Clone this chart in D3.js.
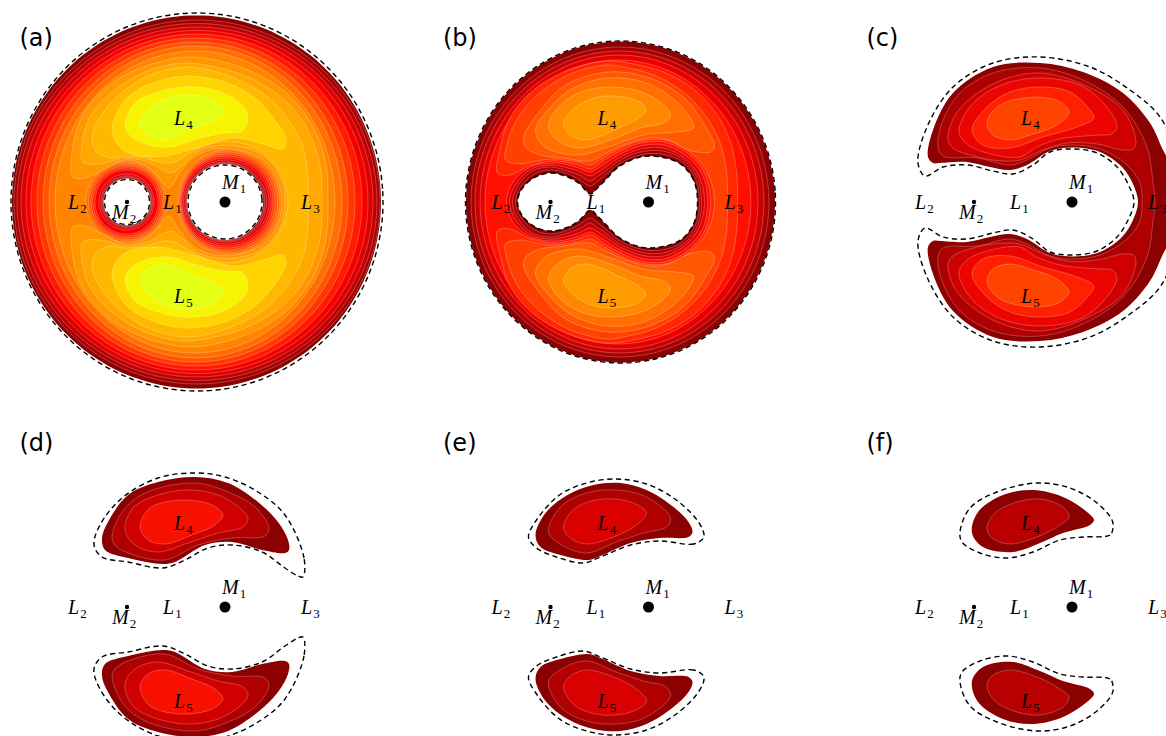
<!DOCTYPE html>
<html>
<head>
    <title>Zero velocity regions</title>
    <script src="https://d3js.org/d3.v7.min.js"></script>
    <style>
        body { margin: 0; background: #fff; }
        svg { display: block; overflow: hidden; }
        .level { stroke: #fff; stroke-opacity: 0.35; stroke-width: 0.7; fill-rule: evenodd; }
        .level.first { stroke: none; }
        .zero { fill: none; stroke: #000; stroke-width: 1.4; stroke-dasharray: 5.2,3.6; }
        .panel-label { font: 24px "DejaVu Sans", sans-serif; }
        .body-label { font: italic 20px "Liberation Serif", serif; }
        .body-label tspan { font-style: normal; font-size: 13px; }
    </style>
</head>
<body>
    <div id="chart"></div>
    <script>
        var panelNames = ["(a)", "(b)", "(c)", "(d)", "(e)", "(f)"];
        var m1X = [225, 648.5, 1072, 225, 648.5, 1072];
        var m1Y = [202, 202, 202, 607, 607, 607];

        var bodyNames = ["L", "L", "L", "L", "L", "M", "M"];
        var bodySubs = ["1", "2", "3", "4", "5", "1", "2"];
        var bodyX = [-62, -157, 76, -51, -51, -3, -113];
        var bodyY = [-6.5, -6.5, -6.5, 77.5, -100.5, 13, -16.5];
        var massX = [0, -98];
        var massSize = [5.5, 2.2];

        // panel (a): [left, right, top] of the near-elliptic contours, level 0-9
        var ringsA = [[-213, 156, 186.5], [-211, 155, 182], [-208, 152, 178.5], [-204, 148, 175], [-199, 143, 171.5],
            [-194, 137, 168], [-188, 130, 164], [-182, 123, 160], [-176, 117, 156], [-170, 110, 151]];
        var holesM1A = [[-38, 38, 38], [-38.5, 39, 38.5], [-39, 40, 39], [-40, 41.5, 40], [-41.5, 44, 42],
            [-43, 46, 44], [-44, 48, 46], [-45, 50, 48], [-46, 52.5, 50], [-47.5, 55, 52]];
        var holesM2A = [[-121.5, -74.5, 23.5], [-122, -74, 24], [-123, -73, 25], [-124, -72.5, 26], [-126, -71, 28],
            [-130, -67, 32], [-132, -65, 34], [-134, -63, 36], [-136.5, -61, 38], [-139, -59, 40]];
        // level 10-12 horseshoes, upper half from the axis round to the axis
        var shoesA = [
            [[103, 0], [102, 30], [95, 60], [80, 88], [58, 112], [28, 130], [-5, 141], [-38, 145], [-82, 135], [-118, 115], [-143, 85], [-153, 49], [-152, 25],
             [-140, 24], [-122, 32], [-100, 42], [-80, 37], [-66, 24], [-56, 14], [-46, 28], [-32, 44], [-10, 53], [15, 52], [38, 42], [52, 24], [57, 0]],
            [[97, 0], [96, 30], [89, 58], [75, 85], [52, 108], [23, 125], [-10, 135], [-42, 139], [-80, 130], [-113, 110], [-135, 85], [-143, 58], [-142, 40],
             [-125, 38], [-100, 44], [-80, 41], [-64, 33], [-54, 29], [-42, 37], [-28, 50], [-8, 56], [17, 55], [40, 45], [55, 26], [60, 0]],
            [[83, 0], [83, 25], [78, 55], [65, 80], [45, 103], [18, 120], [-12, 131], [-38, 135], [-75, 127], [-105, 108], [-125, 85], [-133, 65], [-130, 52],
             [-115, 44], [-100, 46], [-80, 44], [-62, 39], [-50, 40], [-35, 49], [-15, 58], [10, 60], [35, 51], [55, 30], [63, 0]]
        ];
        // level 13-15 islands around L4
        var islandsA = [
            [[-113, 72], [-100, 102], [-75, 118], [-38, 126], [0, 120], [30, 104], [50, 82], [61, 62], [58, 53], [35, 59], [8, 64], [-25, 55], [-68, 45], [-102, 52]],
            [[-100, 79], [-90, 99], [-70, 109], [-42, 115], [-10, 112], [15, 99], [23, 85], [18, 71], [0, 69], [-25, 64], [-50, 56], [-65, 55], [-85, 60], [-97, 69]],
            [[-85, 79], [-75, 94], [-60, 103], [-42, 107], [-20, 105], [-5, 97], [-2, 90], [-10, 82], [-30, 74], [-50, 65], [-65, 62], [-77, 67], [-84, 74]]
        ];

        // panel (b)
        var ringsB = [[-182.5, 126.5, 160.5], [-177.5, 120.5, 155], [-173.5, 115.5, 151], [-168.5, 109.5, 147], [-163.5, 102.5, 142]];
        var peanutsB = [
            [[49, 0], [45, 22], [32, 38], [12, 45], [-8, 45], [-30, 35], [-44, 21], [-52, 13], [-58, 8], [-70, 19], [-83, 26], [-98, 29], [-113, 25], [-126, 14], [-131, 0]],
            [[51, 0], [47, 23], [34, 40], [13, 48], [-8, 47], [-30, 38], [-44, 26], [-52, 20], [-58, 16], [-70, 23], [-83, 29], [-98, 32], [-114, 28], [-128, 15], [-133, 0]],
            [[53, 0], [49, 24], [35, 42], [14, 51], [-8, 50], [-30, 41], [-44, 30], [-52, 25], [-58, 21], [-70, 27], [-84, 32], [-98, 35], [-116, 31], [-130, 17], [-136, 0]],
            [[56, 0], [51, 25], [36, 44], [15, 54], [-8, 53], [-30, 44], [-44, 34], [-52, 29], [-58, 26], [-70, 31], [-84, 35], [-98, 37], [-117, 33], [-132, 19], [-139, 0]],
            [[59, 0], [54, 27], [38, 46], [15, 57], [-8, 56], [-30, 47], [-44, 38], [-52, 33], [-58, 30], [-70, 34], [-84, 38], [-98, 39], [-118, 35], [-135, 21], [-142, 0]]
        ];
        var shoesB = [
            [[89, 0], [88, 30], [82, 60], [68, 88], [45, 113], [15, 130], [-20, 139], [-42, 141], [-80, 132], [-115, 112], [-138, 85], [-148, 55], [-151, 29],
             [-138, 27], [-120, 36], [-98, 41], [-84, 40], [-70, 37], [-58, 33], [-44, 42], [-28, 51], [-8, 59], [15, 60], [39, 49], [56, 29], [62, 0]],
            [[79, 0], [78, 30], [72, 58], [58, 85], [37, 108], [8, 126], [-25, 135], [-42, 137], [-78, 128], [-110, 108], [-132, 82], [-142, 55], [-143, 42],
             [-128, 38], [-112, 41], [-98, 43], [-84, 42], [-70, 40], [-58, 37], [-44, 45], [-28, 54], [-8, 61], [16, 62], [40, 51], [58, 31], [66, 0]]
        ];
        var islandsB = [
            [[-125, 64], [-108, 92], [-83, 117], [-41, 130], [1, 124], [36, 104], [56, 77], [66, 56], [62, 50], [40, 52], [20, 62], [0, 64], [-25, 57], [-44, 48], [-58, 41], [-85, 44], [-108, 47], [-122, 54]],
            [[-113, 72], [-98, 95], [-75, 114], [-41, 124], [-5, 120], [25, 103], [43, 82], [45, 74], [28, 70], [0, 68], [-15, 64], [-40, 55], [-68, 47], [-88, 49], [-105, 56]],
            [[-100, 77], [-90, 95], [-70, 109], [-41, 115], [-10, 111], [13, 99], [22, 87], [17, 80], [-8, 74], [-35, 63], [-68, 54], [-85, 58], [-96, 67]],
            [[-85, 79], [-76, 92], [-60, 102], [-43, 106], [-20, 104], [-6, 98], [-3, 91], [-10, 84], [-30, 74], [-50, 65], [-65, 62], [-77, 66], [-83, 73]]
        ];

        // panel (c)
        var shoesC = [
            [[105, 0], [102, 30], [91, 52], [78, 79], [51, 109], [11, 130], [-32, 139], [-79, 135], [-119, 109], [-139, 72], [-144, 45], [-139, 39],
             [-132, 39], [-105, 40], [-82, 35], [-62, 32], [-45, 37], [-22, 51], [1, 54.5], [28, 50], [50, 35], [61, 18], [66, 0]],
            [[83, 0], [81, 19], [75, 55], [51, 95], [11, 122], [-32, 134], [-79, 129], [-112, 109], [-130, 79], [-134, 55],
             [-129, 46], [-95, 44], [-62, 37], [-45, 42], [-22, 54], [1, 57], [28, 53], [55, 37], [68, 19], [70, 0]]
        ];
        var islandsC = [
            [[-124, 62], [-118, 85], [-100, 105], [-70, 122], [-32, 129], [10, 118], [51, 92], [64, 59], [61, 53], [51, 52], [25, 58], [-5, 59], [-29, 52], [-52, 42], [-69, 41], [-95, 45], [-119, 54]],
            [[-113, 70], [-107, 88], [-92, 105], [-65, 119], [-29, 124], [10, 116], [34, 96], [45, 76], [40, 68], [28, 67], [-12, 63], [-35, 55], [-52, 45], [-85, 49], [-105, 58]],
            [[-100, 72], [-85, 95], [-62, 110], [-32, 115], [-2, 110], [18, 92], [22, 84], [5, 75], [-29, 65], [-62, 54], [-89, 57]],
            [[-85, 80], [-72, 97], [-35, 105], [-12, 100], [-3, 90], [-15, 77], [-42, 67], [-62, 62], [-79, 67]]
        ];

        // panel (d)
        var islandsD = [
            [[64, 57], [60, 54], [37, 57], [7, 65], [-20, 62], [-50, 45], [-62, 43], [-97, 49], [-120, 57], [-123, 69], [-117, 85], [-97, 112], [-67, 125], [-30, 130], [3, 124], [33, 105], [53, 85], [63, 67]],
            [[-113, 69], [-103, 95], [-80, 114], [-30, 124], [3, 115], [30, 100], [44, 79], [40, 71], [7, 69], [-27, 62], [-60, 47], [-97, 54], [-110, 62]],
            [[-100, 77], [-92, 99], [-67, 112], [-33, 117], [0, 109], [23, 89], [18, 80], [-7, 74], [-37, 64], [-67, 55], [-90, 62]],
            [[-85, 80], [-75, 99], [-43, 107], [-13, 102], [-2, 92], [-10, 82], [-33, 72], [-60, 63], [-77, 67]]
        ];
        // panel (e)
        var islandsE = [
            [[44, 75], [40, 70], [11, 69], [-18, 64], [-48, 51], [-60, 47], [-88, 52], [-108, 60], [-113, 72], [-103, 94], [-81, 112], [-55, 122], [-28, 124], [-2, 117], [25, 100], [40, 85]],
            [[-100, 75], [-88, 100], [-62, 114], [-32, 117], [-2, 110], [22, 89], [18, 80], [-5, 74], [-32, 65], [-62, 54], [-87, 62]],
            [[-85, 80], [-73, 99], [-45, 108], [-15, 104], [-2, 94], [-12, 82], [-35, 70], [-62, 63], [-78, 69]]
        ];
        // panel (f)
        var islandsF = [
            [[22, 87], [18, 82], [-9, 74], [-32, 64], [-59, 55], [-89, 60], [-100, 74], [-94, 95], [-69, 112], [-39, 117], [-9, 110], [15, 95]],
            [[-85, 79], [-77, 94], [-55, 105], [-32, 108], [-9, 100], [-3, 90], [-12, 82], [-35, 70], [-63, 63], [-80, 69]]
        ];

        // dashed zero velocity curves
        var zeroRingA = [-214, 158, 189];
        var zeroHolesA = [[-37, 37, 37], [-120.5, -75.5, 22.5]];
        var zeroRingB = [-183, 127, 161];
        var zeroShoeC = [[110, 0], [105, 45], [88, 85], [58, 112], [18, 135], [-32, 145], [-79, 139], [-119, 115], [-145, 75], [-154, 39], [-147, 26],
            [-129, 35], [-105, 37], [-79, 31], [-59, 28], [-39, 37], [-22, 50], [1, 53], [25, 49], [45, 35], [57, 16], [62, 0]];
        var zeroD = [[78, 30], [79, 49], [60, 92], [33, 115], [0, 130], [-30, 134], [-67, 129], [-103, 109], [-125, 82], [-131, 62], [-123, 50], [-97, 45], [-62, 39], [-40, 47], [-17, 59], [7, 62], [37, 55], [60, 39], [73, 31]];
        var zeroE = [[55, 69], [45, 63], [11, 66], [-18, 62], [-48, 50], [-65, 44], [-92, 50], [-112, 59], [-120, 70], [-112, 87], [-89, 112], [-62, 124], [-32, 128], [-2, 123], [25, 109], [47, 89], [55, 75]];
        var zeroF = [[41, 79], [38, 72], [11, 70], [-12, 67], [-39, 55], [-65, 49], [-92, 54], [-110, 65], [-112, 75], [-102, 99], [-75, 115], [-35, 124], [-2, 119], [25, 104], [40, 87]];

        var coloursA = ["#8b0000", "#a50000", "#c00000", "#dc0000", "#f50000", "#ff1a00", "#ff3800", "#ff5400", "#ff6e00", "#ff8400", "#ff9800", "#ffa800", "#ffb800", "#ffd400", "#f6f400", "#e2ff14"];
        var coloursB = ["#8b0000", "#a80000", "#c80000", "#e80000", "#ff1000", "#ff2800", "#ff4000", "#ff5800", "#ff7000", "#ff8800", "#ff9c00"];
        var coloursC = ["#8b0000", "#ae0000", "#cf0000", "#ec0500", "#ff2000", "#ff4400"];
        var coloursD = ["#8b0000", "#b00000", "#d00000", "#f81000"];
        var coloursE = ["#8b0000", "#b00000", "#d80000"];
        var coloursF = ["#8b0000", "#b80000"];

        var angles = d3.range(0, 360, 4);

        function ringToPoints(row) {
            var cx = (row[0] + row[1]) / 2, rx = (row[1] - row[0]) / 2;
            return angles.map(function(a) {
                var t = a * Math.PI / 180;
                return [cx + rx * Math.cos(t), row[2] * Math.sin(t)];
            });
        }

        function mirror(points) {
            return points.map(function(p) { return [p[0], -p[1]]; });
        }

        // upper half that starts and ends on the axis -> one closed loop
        function closeHalf(half) {
            var first = half[0], last = half[half.length - 1];
            var inner = half.slice(first[1] === 0 ? 1 : 0, last[1] === 0 ? half.length - 1 : half.length);
            return half.concat(mirror(inner).reverse());
        }

        var svg = d3.select("#chart").append("svg")
            .attr("width", 1166)
            .attr("height", 736);

        function makePanel(i) {
            var x = d3.scaleLinear().domain([0, 100]).range([m1X[i], m1X[i] + 100]);
            var y = d3.scaleLinear().domain([0, 100]).range([m1Y[i], m1Y[i] - 100]);
            var line = d3.line()
                .x(function(d) { return x(d[0]); })
                .y(function(d) { return y(d[1]); })
                .curve(d3.curveCatmullRomClosed.alpha(0.5));
            return { g: svg.append("g"), line: line, index: i };
        }

        function drawLevels(panel, levels, colours) {
            panel.g.selectAll("path.level")
                .data(levels)
                .enter().append("path")
                .attr("class", function(d, i) { return i === 0 ? "level first" : "level"; })
                .attr("d", function(loops) { return loops.map(panel.line).join(""); })
                .style("fill", function(d, i) { return colours[i]; });
        }

        function drawZero(panel, loops) {
            panel.g.append("path")
                .attr("class", "zero")
                .attr("d", loops.map(panel.line).join(""));
        }

        function drawLabels(panel) {
            var i = panel.index;
            var px = m1X[i], py = m1Y[i];
            panel.g.selectAll("circle")
                .data(massX)
                .enter().append("circle")
                .attr("cx", function(d) { return px + d; })
                .attr("cy", py)
                .attr("r", function(d, k) { return massSize[k]; })
                .attr("fill", "#000");

            var text = panel.g.selectAll("text.body-label")
                .data(bodyNames)
                .enter().append("text")
                .attr("class", "body-label")
                .attr("x", function(d, k) { return px + bodyX[k]; })
                .attr("y", function(d, k) { return py - bodyY[k]; })
                .text(function(d) { return d; });
            text.append("tspan")
                .attr("dx", 1)
                .attr("dy", 4)
                .text(function(d, k) { return bodySubs[k]; });

            panel.g.append("text")
                .attr("class", "panel-label")
                .attr("x", px - 205.5)
                .attr("y", py - 156)
                .text(panelNames[i]);
        }

        function islandLoops(points) {
            return [points, mirror(points)];
        }

        // (a)
        var levelsA = ringsA.map(function(r, k) {
            return [ringToPoints(r), ringToPoints(holesM1A[k]), ringToPoints(holesM2A[k])];
        }).concat(shoesA.map(function(s) { return [closeHalf(s)]; }))
          .concat(islandsA.map(islandLoops));

        // (b)
        var levelsB = ringsB.map(function(r, k) {
            return [ringToPoints(r), closeHalf(peanutsB[k])];
        }).concat(shoesB.map(function(s) { return [closeHalf(s)]; }))
          .concat(islandsB.map(islandLoops));

        // (c)
        var levelsC = shoesC.map(function(s) { return [closeHalf(s)]; })
            .concat(islandsC.map(islandLoops));

        var panels = d3.range(6).map(makePanel);

        drawLevels(panels[0], levelsA, coloursA);
        drawLevels(panels[1], levelsB, coloursB);
        drawLevels(panels[2], levelsC, coloursC);
        drawLevels(panels[3], islandsD.map(islandLoops), coloursD);
        drawLevels(panels[4], islandsE.map(islandLoops), coloursE);
        drawLevels(panels[5], islandsF.map(islandLoops), coloursF);

        drawZero(panels[0], [ringToPoints(zeroRingA)].concat(zeroHolesA.map(ringToPoints)));
        drawZero(panels[1], [ringToPoints(zeroRingB), closeHalf(peanutsB[0])]);
        drawZero(panels[2], [closeHalf(zeroShoeC)]);
        drawZero(panels[3], islandLoops(zeroD));
        drawZero(panels[4], islandLoops(zeroE));
        drawZero(panels[5], islandLoops(zeroF));

        panels.forEach(drawLabels);
    </script>
</body>
</html>
